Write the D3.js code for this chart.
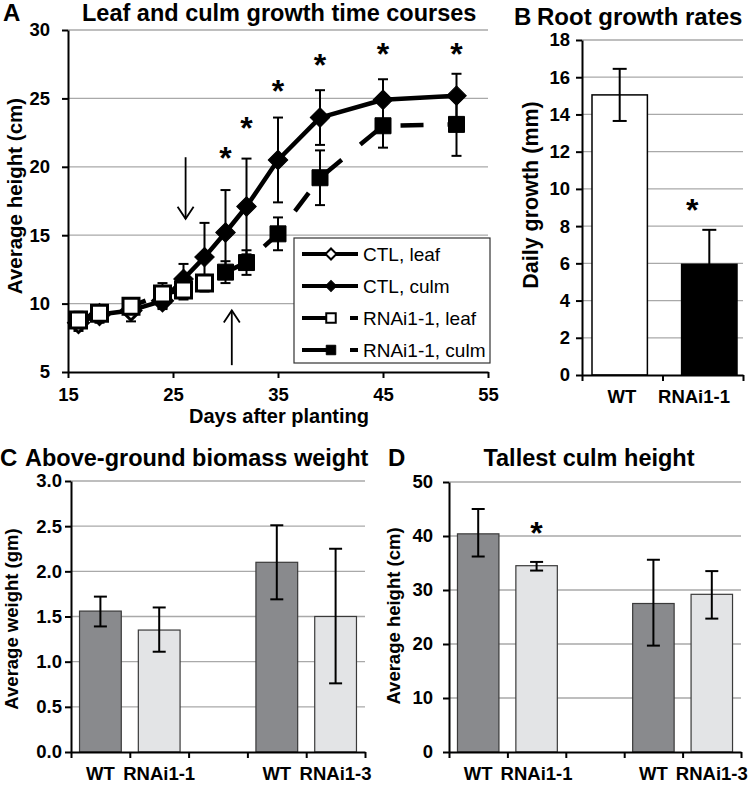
<!DOCTYPE html>
<html><head><meta charset="utf-8">
<script src="https://cdn.jsdelivr.net/npm/d3@7"></script>
<style>body{margin:0;background:#fff}svg{display:block}</style>
</head><body><svg id="c" width="752" height="787"></svg>
<script>
// ---------------- Panel A data ----------------
const ctlLeafDays  = [16, 18, 21, 24];
const ctlLeafVals  = [8.6, 9.2, 9.5, 10.2];
const ctlLeafErr   = [0.6, 0.6, 0.8, 0.6];
const ctlCulmDays  = [24, 26, 28, 30, 32, 35, 39, 45, 52];
const ctlCulmVals  = [10.2, 11.8, 13.4, 15.2, 17.1, 20.5, 23.6, 24.9, 25.2];
const ctlCulmErr   = [0.5, 1.1, 2.5, 3.1, 3.5, 3.1, 2.0, 1.5, 1.6];
const rnaiLeafDays = [16, 18, 21, 24, 26, 28];
const rnaiLeafVals = [8.8, 9.3, 9.8, 10.7, 11.0, 11.5];
const rnaiLeafErr  = [0.6, 0.6, 0.4, 0.8, 0.7, 0.6];
const rnaiCulmDays = [30, 32, 35, 39, 45, 52];
const rnaiCulmVals = [12.3, 13.0, 15.1, 19.2, 23.0, 23.1];
const rnaiCulmErr  = [0.8, 0.9, 1.2, 2.0, 1.6, 2.3];
const starADays    = [30, 32, 35, 39, 45, 52];
const starAVals    = [21.2, 23.4, 26.1, 28.0, 28.8, 28.8];
const aXTicks      = [15, 25, 35, 45, 55];
const aYTicks      = [5, 10, 15, 20, 25, 30];
const legendNames  = ["CTL, leaf", "CTL, culm", "RNAi1-1, leaf", "RNAi1-1, culm"];
const arrowDownDay = 26.2, arrowDownFrom = 20.7, arrowDownTo = 16.2;
const arrowUpDay   = 30.6, arrowUpFrom = 5.5, arrowUpTo = 9.5;

// ---------------- Panel B data ----------------
const bCats   = ["WT", "RNAi1-1"];
const bVals   = [15.05, 5.95];
const bErr    = [1.4, 1.85];
const bYTicks = [0, 2, 4, 6, 8, 10, 12, 14, 16, 18];
const bStarVal = 9.25;

// ---------------- Panel C / D data ----------------
const cdLabels = ["WT", "RNAi1-1", "", "WT", "RNAi1-3"];
const cVals  = [1.56, 1.35, null, 2.10, 1.50];
const cLo    = [1.39, 1.11, null, 1.69, 0.76];
const cHi    = [1.72, 1.60, null, 2.51, 2.25];
const cYTicks = [0, 0.5, 1.0, 1.5, 2.0, 2.5, 3.0];
const dVals  = [40.4, 34.5, null, 27.5, 29.2];
const dLo    = [36.2, 33.6, null, 19.7, 24.7];
const dHi    = [45.0, 35.2, null, 35.6, 33.5];
const dYTicks = [0, 10, 20, 30, 40, 50];
const dStarIdx = 1, dStarVal = 42.0;

// ---------------- helpers ----------------
const FONT = '"Liberation Sans", Arial, Helvetica, sans-serif';
const GRID = "#a9a9a9";
const DARK = "#898a8d", LIGHT = "#e3e4e6";
const svg = d3.select("#c");

function txt(g, x, y, s, size, weight, anchor) {
  return g.append("text").attr("x", x).attr("y", y).text(s)
    .attr("font-family", FONT).attr("font-size", size)
    .attr("font-weight", weight || "bold").attr("text-anchor", anchor || "start").attr("fill", "#000");
}
function styleAxis(sel, size) {
  sel.select(".domain").attr("stroke", "#000").attr("stroke-width", 2);
  sel.selectAll(".tick line").attr("stroke", "#000").attr("stroke-width", 2);
  sel.selectAll(".tick text").attr("font-family", FONT).attr("font-size", size)
    .attr("font-weight", "bold").attr("fill", "#000");
}
function grid(g, ticks, y, x0, x1) {
  g.append("g").selectAll("line").data(ticks.slice(1)).join("line")
    .attr("x1", x0).attr("x2", x1).attr("y1", d => y(d)).attr("y2", d => y(d))
    .attr("stroke", GRID).attr("stroke-width", 1.3);
}
function star(g, x, yc, size) {
  txt(g, x, yc + size * 0.58, "*", size, "bold", "middle");
}
function ylabel(g, x, yc, s, size) {
  g.append("text").attr("transform", `translate(${x},${yc}) rotate(-90)`)
    .attr("text-anchor", "middle").attr("font-family", FONT).attr("font-size", size)
    .attr("font-weight", "bold").text(s);
}

// ================= Panel A =================
const gA = svg.append("g");
const xA = d3.scaleLinear().domain([15, 55]).range([68, 488]);
const yA = d3.scaleLinear().domain([5, 30]).range([372, 30]);
grid(gA, aYTicks, yA, 68, 488);

const seriesA = [
  {days: ctlLeafDays, vals: ctlLeafVals, err: ctlLeafErr, shape: "diamond", fill: "#fff", dash: null},
  {days: ctlCulmDays, vals: ctlCulmVals, err: ctlCulmErr, shape: "diamond", fill: "#000", dash: null},
  {days: rnaiLeafDays, vals: rnaiLeafVals, err: rnaiLeafErr, shape: "square", fill: "#fff", dash: "23,24"},
  {days: rnaiCulmDays, vals: rnaiCulmVals, err: rnaiCulmErr, shape: "square", fill: "#000", dash: "23,24"}
];
const line = d3.line().x(d => xA(d[0])).y(d => yA(d[1]));
function markerPath(shape, big) {
  if (shape === "diamond") return d3.symbol(d3.symbolSquare, big ? 190 : 60)();
  return d3.symbol(d3.symbolSquare, big ? 256 : 90)();
}
seriesA.forEach(s => {
  const pts = s.days.map((d, i) => [d, s.vals[i], s.err[i]]);
  gA.append("path").datum(pts).attr("d", line).attr("fill", "none")
    .attr("stroke", "#000").attr("stroke-width", 4.5).attr("stroke-linejoin", "round")
    .attr("stroke-dasharray", s.dash);
  const eb = gA.append("g").attr("stroke", "#000").attr("stroke-width", 2);
  pts.forEach(p => {
    const x = xA(p[0]), y1 = yA(p[1] - p[2]), y2 = yA(p[1] + p[2]);
    eb.append("line").attr("x1", x).attr("x2", x).attr("y1", y1).attr("y2", y2);
    eb.append("line").attr("x1", x - 5).attr("x2", x + 5).attr("y1", y1).attr("y2", y1);
    eb.append("line").attr("x1", x - 5).attr("x2", x + 5).attr("y1", y2).attr("y2", y2);
  });
  gA.append("g").selectAll("path").data(pts).join("path")
    .attr("d", markerPath(s.shape, true))
    .attr("transform", p => `translate(${xA(p[0])},${yA(p[1])})` + (s.shape === "diamond" ? " rotate(45)" : ""))
    .attr("fill", s.fill).attr("stroke", "#000").attr("stroke-width", s.fill === "#fff" ? 3 : 1);
});

// arrows
function arrow(g, x, yFrom, yTo) {
  const dir = yTo > yFrom ? 1 : -1;
  g.append("line").attr("x1", x).attr("x2", x).attr("y1", yFrom).attr("y2", yTo)
    .attr("stroke", "#000").attr("stroke-width", 1.8);
  g.append("polyline").attr("points", `${x - 8},${yTo - dir * 12} ${x},${yTo} ${x + 8},${yTo - dir * 12}`)
    .attr("fill", "none").attr("stroke", "#000").attr("stroke-width", 1.8);
}
arrow(gA, xA(arrowDownDay), yA(arrowDownFrom), yA(arrowDownTo));
arrow(gA, xA(arrowUpDay), yA(arrowUpFrom), yA(arrowUpTo));

// stars
starADays.forEach((d, i) => star(gA, xA(d), yA(starAVals[i]), 32));

// axes
const axAy = gA.append("g").attr("transform", "translate(68,0)")
  .call(d3.axisLeft(yA).tickValues(aYTicks).tickSize(6).tickSizeOuter(0).tickPadding(12));
styleAxis(axAy, 18.5);
const axAx = gA.append("g").attr("transform", "translate(0,372)")
  .call(d3.axisBottom(xA).tickValues(aXTicks).tickSize(6).tickSizeOuter(0).tickPadding(10));
styleAxis(axAx, 18.5);

// legend
const lg = gA.append("g");
lg.append("rect").attr("x", 294).attr("y", 238).attr("width", 196).attr("height", 125)
  .attr("fill", "#fff").attr("stroke", "#333").attr("stroke-width", 1.2);
legendNames.forEach((n, i) => {
  const s = seriesA[i], y = 254 + i * 32;
  lg.append("line").attr("x1", 302).attr("x2", 358).attr("y1", y).attr("y2", y)
    .attr("stroke", "#000").attr("stroke-width", 4).attr("stroke-dasharray", s.dash ? "28,20,8,28" : null);
  lg.append("path").attr("d", markerPath(s.shape, false))
    .attr("transform", `translate(331,${y})` + (s.shape === "diamond" ? " rotate(45)" : ""))
    .attr("fill", s.fill).attr("stroke", "#000").attr("stroke-width", s.fill === "#fff" ? 2 : 1);
  txt(lg, 363, y + 7, n, 19, "normal");
});

// titles
txt(gA, 3, 21, "A", 24);
txt(gA, 82, 21, "Leaf and culm growth time courses", 23.5);
txt(gA, 279, 423, "Days after planting", 20, "bold", "middle");
ylabel(gA, 22, 196, "Average height (cm)", 20.5);

// ================= Panel B =================
const gB = svg.append("g");
const yB = d3.scaleLinear().domain([0, 18]).range([375, 40]);
const xBt = d3.scaleLinear().domain([0, 2]).range([582, 743]);
const xBb = d3.scaleBand().domain(bCats).range([592, 737]).paddingInner(0.382);
const xBl = d3.scalePoint().domain(bCats).range([622, 694]);
grid(gB, bYTicks, yB, 582, 743);
gB.selectAll("rect.bar").data(bCats).join("rect")
  .attr("x", d => xBb(d)).attr("width", xBb.bandwidth())
  .attr("y", (d, i) => yB(bVals[i])).attr("height", (d, i) => yB(0) - yB(bVals[i]))
  .attr("fill", (d, i) => i === 0 ? "#fff" : "#000").attr("stroke", "#000").attr("stroke-width", 1.5);
const ebB = gB.append("g").attr("stroke", "#000").attr("stroke-width", 2);
bCats.forEach((c, i) => {
  const x = xBb(c) + xBb.bandwidth() / 2, y1 = yB(bVals[i] - bErr[i]), y2 = yB(bVals[i] + bErr[i]);
  ebB.append("line").attr("x1", x).attr("x2", x).attr("y1", y1).attr("y2", y2);
  ebB.append("line").attr("x1", x - 7).attr("x2", x + 7).attr("y1", y1).attr("y2", y1);
  ebB.append("line").attr("x1", x - 7).attr("x2", x + 7).attr("y1", y2).attr("y2", y2);
});
star(gB, xBb("RNAi1-1") + xBb.bandwidth() / 2 - 17, yB(bStarVal), 32);
const axBy = gB.append("g").attr("transform", "translate(582,0)")
  .call(d3.axisLeft(yB).tickValues(bYTicks).tickSize(6).tickSizeOuter(0).tickPadding(6));
styleAxis(axBy, 18.5);
const axBx = gB.append("g").attr("transform", "translate(0,375)")
  .call(d3.axisBottom(xBt).tickValues([0, 1, 2]).tickSize(6).tickSizeOuter(0).tickFormat(""));
styleAxis(axBx, 18.5);
bCats.forEach(c => txt(gB, xBl(c), 403, c, 18.5, "bold", "middle"));
txt(gB, 514, 25, "B", 24);
txt(gB, 537, 25, "Root growth rates", 24);
ylabel(gB, 538, 195, "Daily growth (mm)", 21.5);

// ================= Panels C & D =================
function barPanel(o) {
  const g = svg.append("g");
  const y = d3.scaleLinear().domain(o.yDomain).range([o.yBot, o.yTop]);
  const idx = d3.range(cdLabels.length);
  const xb = d3.scaleBand().domain(idx).range([o.x0, o.x1]).paddingInner(0.29).paddingOuter(0.145);
  const xt = d3.scaleLinear().domain([0, cdLabels.length]).range([o.x0, o.x1]);
  grid(g, o.ticks, y, o.x0, o.x1);
  const fills = [DARK, LIGHT, null, DARK, LIGHT];
  idx.forEach(i => {
    if (o.vals[i] == null) return;
    g.append("rect").attr("x", xb(i)).attr("width", xb.bandwidth())
      .attr("y", y(o.vals[i])).attr("height", y(0) - y(o.vals[i]))
      .attr("fill", fills[i]).attr("stroke", "#3a3a3a").attr("stroke-width", 1.2);
    const x = xb(i) + xb.bandwidth() / 2, y1 = y(o.lo[i]), y2 = y(o.hi[i]);
    const e = g.append("g").attr("stroke", "#000").attr("stroke-width", 2);
    e.append("line").attr("x1", x).attr("x2", x).attr("y1", y1).attr("y2", y2);
    e.append("line").attr("x1", x - 6.5).attr("x2", x + 6.5).attr("y1", y1).attr("y2", y1);
    e.append("line").attr("x1", x - 6.5).attr("x2", x + 6.5).attr("y1", y2).attr("y2", y2);
  });
  const ay = g.append("g").attr("transform", `translate(${o.x0},0)`)
    .call(d3.axisLeft(y).tickValues(o.ticks).tickSize(6).tickSizeOuter(0).tickPadding(o.tickPad).tickFormat(o.fmt));
  styleAxis(ay, 18.5);
  const ax = g.append("g").attr("transform", `translate(0,${o.yBot})`)
    .call(d3.axisBottom(xt).tickValues(d3.range(cdLabels.length + 1)).tickSize(6).tickSizeOuter(0).tickFormat(""));
  styleAxis(ax, 18.5);
  idx.forEach(i => { if (cdLabels[i]) txt(g, xb(i) + xb.bandwidth() / 2, 780, cdLabels[i], 18.5, "bold", "middle"); });
  return {g, y, xb};
}
const C = barPanel({x0: 71, x1: 365, yTop: 481, yBot: 752, yDomain: [0, 3], ticks: cYTicks,
  fmt: d3.format(".1f"), vals: cVals, lo: cLo, hi: cHi, tickPad: 3});
txt(C.g, 0, 466, "C", 24);
txt(C.g, 25, 466, "Above-ground biomass weight", 23.5);
ylabel(C.g, 18, 619, "Average weight (gm)", 18.5);

const D = barPanel({x0: 449, x1: 741, yTop: 482, yBot: 752, yDomain: [0, 50], ticks: dYTicks,
  fmt: d3.format("d"), vals: dVals, lo: dLo, hi: dHi, tickPad: 10});
star(D.g, D.xb(dStarIdx) + D.xb.bandwidth() / 2, D.y(dStarVal), 32);
txt(D.g, 388, 466, "D", 24);
txt(D.g, 589, 466, "Tallest culm height", 23.5, "bold", "middle");
ylabel(D.g, 400, 616, "Average height (cm)", 18.5);
</script></body></html>
